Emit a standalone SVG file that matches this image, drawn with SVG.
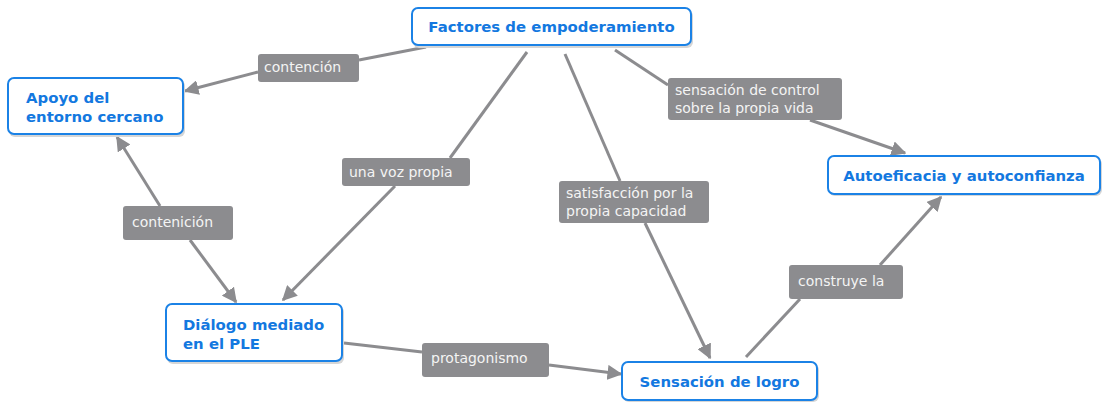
<svg xmlns="http://www.w3.org/2000/svg" width="1102" height="403" viewBox="0 0 1102 403">
<style>
.node rect.box{fill:#fff;stroke:#1b82e6;stroke-width:2}
.node rect.sh{fill:#d6d6d6}
.node text{font-family:"DejaVu Sans",Verdana,sans-serif;font-weight:bold;font-size:14.9px;fill:#1378e0}
.lbl rect{fill:#8c8c8f}
.lbl text{font-family:"DejaVu Sans",Verdana,sans-serif;font-size:14px;fill:#f4f4f4}
.conn line{stroke:#8c8c8f;stroke-width:3}
</style>
<defs>
<marker id="ah" viewBox="0 0 10 10" refX="9" refY="5" markerWidth="5" markerHeight="5" orient="auto" markerUnits="strokeWidth">
<path d="M0,0 L10,5 L0,10 z" fill="#8c8c8f"/>
</marker>
</defs>
<rect width="1102" height="403" fill="#fff"/>
<g id="connectors" class="conn">
<line x1="426" y1="47" x2="359" y2="60"/>
<line x1="258" y1="72" x2="185" y2="91" marker-end="url(#ah)"/>
<line x1="527" y1="52" x2="450" y2="158"/>
<line x1="395" y1="186" x2="283" y2="300" marker-end="url(#ah)"/>
<line x1="565" y1="54" x2="620" y2="181"/>
<line x1="645" y1="223" x2="710" y2="358" marker-end="url(#ah)"/>
<line x1="615" y1="50" x2="668" y2="85"/>
<line x1="810" y1="120" x2="905" y2="153" marker-end="url(#ah)"/>
<line x1="160" y1="206" x2="117" y2="137" marker-end="url(#ah)"/>
<line x1="190" y1="240" x2="236" y2="302" marker-end="url(#ah)"/>
<line x1="344" y1="343" x2="422" y2="352"/>
<line x1="549" y1="365" x2="621" y2="374" marker-end="url(#ah)"/>
<line x1="746" y1="357" x2="800" y2="299"/>
<line x1="880" y1="265" x2="941" y2="197" marker-end="url(#ah)"/>
</g>
<g id="lbl-contencion" class="lbl"><rect x="258" y="54" width="101" height="28" rx="3"/><text x="264" y="72">contención</text></g>
<g id="lbl-voz" class="lbl"><rect x="342" y="158" width="128" height="28" rx="3"/><text x="349" y="177">una voz propia</text></g>
<g id="lbl-control" class="lbl"><rect x="668" y="78" width="174" height="42" rx="3"/><text x="675" y="95">sensación de control</text><text x="675" y="113">sobre la propia vida</text></g>
<g id="lbl-satisf" class="lbl"><rect x="559" y="181" width="150" height="42" rx="3"/><text x="566" y="198">satisfacción por la</text><text x="566" y="216">propia capacidad</text></g>
<g id="lbl-contenicion" class="lbl"><rect x="123" y="206" width="110" height="34" rx="3"/><text x="132" y="227">contenición</text></g>
<g id="lbl-protag" class="lbl"><rect x="422" y="343" width="127" height="34" rx="3"/><text x="431" y="363">protagonismo</text></g>
<g id="lbl-construye" class="lbl"><rect x="789" y="265" width="114" height="34" rx="3"/><text x="798" y="286">construye la</text></g>
<g id="n-factores" class="node"><rect class="sh" x="413" y="10" width="280" height="38" rx="6"/><rect class="box" x="412" y="8" width="279" height="37" rx="6"/><text x="551.5" y="32" text-anchor="middle">Factores de empoderamiento</text></g>
<g id="n-apoyo" class="node"><rect class="sh" x="9" y="80" width="176" height="57" rx="6"/><rect class="box" x="8" y="78" width="175" height="56" rx="6"/><text x="26" y="103">Apoyo del</text><text x="26" y="122">entorno cercano</text></g>
<g id="n-auto" class="node"><rect class="sh" x="829" y="158" width="273" height="38" rx="6"/><rect class="box" x="828" y="156" width="272" height="38" rx="6"/><text x="964" y="181" text-anchor="middle">Autoeficacia y autoconfianza</text></g>
<g id="n-dialogo" class="node"><rect class="sh" x="167" y="306" width="177" height="58" rx="6"/><rect class="box" x="166" y="304" width="176" height="57" rx="6"/><text x="183" y="330">Diálogo mediado</text><text x="183" y="349">en el PLE</text></g>
<g id="n-logro" class="node"><rect class="sh" x="623" y="364" width="196" height="38" rx="6"/><rect class="box" x="622" y="362" width="195" height="38" rx="6"/><text x="719.5" y="387" text-anchor="middle">Sensación de logro</text></g>
</svg>
